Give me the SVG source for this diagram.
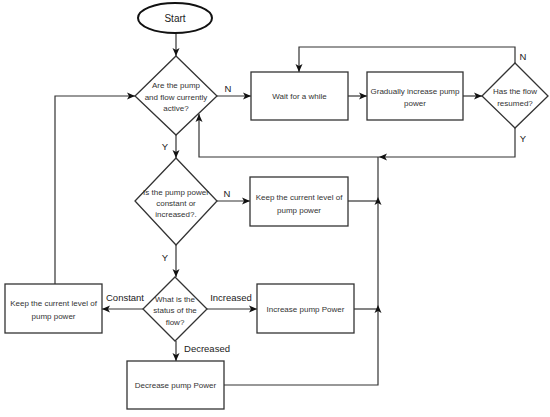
<svg xmlns="http://www.w3.org/2000/svg" width="550" height="417" viewBox="0 0 550 417">
<defs>
<style>
.shape{fill:#fff;stroke:#333;stroke-width:1.3}
.line{fill:none;stroke:#333;stroke-width:1.2}
.t{font-family:"Liberation Sans",Arial,sans-serif;font-size:8px;fill:#333;text-anchor:middle;dominant-baseline:central}
.lbl{font-family:"Liberation Sans",Arial,sans-serif;font-size:9.5px;fill:#222;text-anchor:middle;dominant-baseline:central}
</style>
<marker id="arr" markerUnits="userSpaceOnUse" markerWidth="10" markerHeight="10" viewBox="0 0 10 10" refX="9" refY="5" orient="auto">
<path d="M1,1.5 L9,5 L1,8.5 L3,5 Z" fill="#111"/>
</marker>
</defs>
<rect width="550" height="417" fill="#fff"/>
<g id="connectors">
<path class="line" d="M176,33 V56" marker-end="url(#arr)"/>
<path class="line" d="M217,96 H251" marker-end="url(#arr)"/>
<path class="line" d="M348,96 H367" marker-end="url(#arr)"/>
<path class="line" d="M463,96 H482" marker-end="url(#arr)"/>
<path class="line" d="M515,63 V47 H299 V72" marker-end="url(#arr)"/>
<path class="line" d="M515,128 V157 H379" marker-end="url(#arr)"/>
<path class="line" d="M379,157 H199 V114" marker-end="url(#arr)"/>
<path class="line" d="M176,135 V158" marker-end="url(#arr)"/>
<path class="line" d="M217,201 H250" marker-end="url(#arr)"/>
<path class="line" d="M348,201 H378"/>
<path class="line" d="M176,245 V277" marker-end="url(#arr)"/>
<path class="line" d="M143,309 H102" marker-end="url(#arr)"/>
<path class="line" d="M55,284 V96 H135" marker-end="url(#arr)"/>
<path class="line" d="M207,309 H257" marker-end="url(#arr)"/>
<path class="line" d="M354,309 H378"/>
<path class="line" d="M176,341 V361" marker-end="url(#arr)"/>
<path class="line" d="M224,385 H378 V305" marker-end="url(#arr)"/>
<path class="line" d="M378,305 V197" marker-end="url(#arr)"/>
<path class="line" d="M378,197 V157"/>
<text class="lbl" x="228" y="88">N</text>
<text class="lbl" x="165" y="146">Y</text>
<text class="lbl" x="523" y="56">N</text>
<text class="lbl" x="523" y="138">Y</text>
<text class="lbl" x="227" y="193">N</text>
<text class="lbl" x="165" y="257">Y</text>
<text class="lbl" x="125" y="297">Constant</text>
<text class="lbl" x="231" y="297">Increased</text>
<text class="lbl" x="207" y="348">Decreased</text>
</g>
<g id="start">
<ellipse cx="175" cy="18" rx="37" ry="15" fill="#fff" stroke="#111" stroke-width="2"/>
<text class="lbl" x="175" y="18" style="font-size:10px">Start</text>
</g>
<g id="d-active">
<polygon class="shape" points="176,56 217,96 176,135 135,96"/>
<text class="t" x="176" y="85">Are the pump</text>
<text class="t" x="176" y="97">and flow currently</text>
<text class="t" x="176" y="108">active?</text>
</g>
<g id="wait">
<rect class="shape" x="251" y="72" width="97" height="48"/>
<text class="t" x="299.5" y="96">Wait for a while</text>
</g>
<g id="gradual">
<rect class="shape" x="367" y="72" width="96" height="48"/>
<text class="t" x="415" y="91">Gradually increase pump</text>
<text class="t" x="415" y="103">power</text>
</g>
<g id="d-resumed">
<polygon class="shape" points="515,63 548,96 515,128 482,96"/>
<text class="t" x="515" y="91">Has the flow</text>
<text class="t" x="515" y="103">resumed?</text>
</g>
<g id="d-power">
<polygon class="shape" points="176,158 217,201 176,245 135,201"/>
<text class="t" x="176" y="192">Is the pump power</text>
<text class="t" x="176" y="203">constant or</text>
<text class="t" x="176" y="214">increased?.</text>
</g>
<g id="keep1">
<rect class="shape" x="250" y="177" width="98" height="49"/>
<text class="t" x="299" y="197">Keep the current level of</text>
<text class="t" x="299" y="210">pump power</text>
</g>
<g id="d-status">
<polygon class="shape" points="175,277 207,309 175,341 143,309"/>
<text class="t" x="175" y="299">What is the</text>
<text class="t" x="175" y="310">status of the</text>
<text class="t" x="175" y="322">flow?</text>
</g>
<g id="keep2">
<rect class="shape" x="5" y="284" width="97" height="49"/>
<text class="t" x="53.5" y="303">Keep the current level of</text>
<text class="t" x="53.5" y="316">pump power</text>
</g>
<g id="increase">
<rect class="shape" x="257" y="284" width="97" height="49"/>
<text class="t" x="305.5" y="309">Increase pump Power</text>
</g>
<g id="decrease">
<rect class="shape" x="127" y="361" width="97" height="48"/>
<text class="t" x="175.5" y="385">Decrease pump Power</text>
</g>
</svg>
